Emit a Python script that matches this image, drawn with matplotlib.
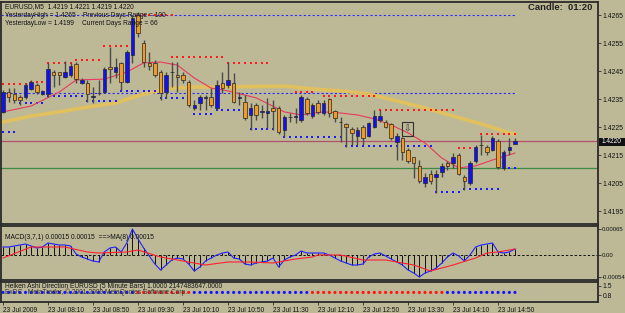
import matplotlib
matplotlib.use('Agg')
import matplotlib.pyplot as plt
from matplotlib.patches import Rectangle
import numpy as np

# ---------------- data ----------------
bar_open = [1.42304, 1.42375, 1.42368, 1.42357, 1.42357, 1.42386, 1.42400, 1.42368, 1.42368, 1.42446,
            1.42446, 1.42429, 1.42436, 1.42475, 1.42407, 1.42407, 1.42357, 1.42371, 1.42375, 1.42464,
            1.42446, 1.42479, 1.42411, 1.42507, 1.42650, 1.42550, 1.42479, 1.42479, 1.42446, 1.42375,
            1.42446, 1.42436, 1.42436, 1.42411, 1.42318, 1.42336, 1.42354, 1.42357, 1.42318, 1.42407,
            1.42400, 1.42407, 1.42354, 1.42339, 1.42293, 1.42329, 1.42304, 1.42300, 1.42318, 1.42318,
            1.42239, 1.42286, 1.42286, 1.42275, 1.42350, 1.42289, 1.42336, 1.42300, 1.42350, 1.42307,
            1.42268, 1.42261, 1.42243, 1.42218, 1.42250, 1.42218, 1.42250, 1.42275, 1.42268, 1.42261,
            1.42196, 1.42211, 1.42168, 1.42143, 1.42111, 1.42050, 1.42082, 1.42071, 1.42089, 1.42121,
            1.42121, 1.42150, 1.42071, 1.42050, 1.42129, 1.42186, 1.42179, 1.42168, 1.42200, 1.42104,
            1.42168, 1.42190]
bar_high = [1.42382, 1.42389, 1.42389, 1.42364, 1.42407, 1.42418, 1.42407, 1.42382, 1.42479, 1.42454,
            1.42446, 1.42486, 1.42479, 1.42482, 1.42425, 1.42418, 1.42393, 1.42418, 1.42464, 1.42536,
            1.42496, 1.42482, 1.42525, 1.42650, 1.42661, 1.42561, 1.42518, 1.42489, 1.42454, 1.42446,
            1.42482, 1.42482, 1.42446, 1.42418, 1.42346, 1.42364, 1.42364, 1.42389, 1.42418, 1.42446,
            1.42482, 1.42443, 1.42375, 1.42364, 1.42336, 1.42336, 1.42329, 1.42354, 1.42346, 1.42325,
            1.42293, 1.42300, 1.42318, 1.42364, 1.42357, 1.42336, 1.42346, 1.42346, 1.42354, 1.42311,
            1.42286, 1.42264, 1.42250, 1.42250, 1.42257, 1.42268, 1.42311, 1.42311, 1.42275, 1.42264,
            1.42229, 1.42214, 1.42175, 1.42143, 1.42132, 1.42086, 1.42096, 1.42096, 1.42121, 1.42129,
            1.42157, 1.42157, 1.42079, 1.42129, 1.42186, 1.42221, 1.42186, 1.42218, 1.42207, 1.42168,
            1.42211, 1.42210]
bar_low = [1.42300, 1.42339, 1.42336, 1.42329, 1.42350, 1.42382, 1.42368, 1.42364, 1.42357, 1.42393,
           1.42400, 1.42425, 1.42429, 1.42407, 1.42404, 1.42339, 1.42336, 1.42364, 1.42371, 1.42407,
           1.42425, 1.42382, 1.42407, 1.42479, 1.42571, 1.42464, 1.42454, 1.42429, 1.42346, 1.42354,
           1.42393, 1.42375, 1.42407, 1.42321, 1.42311, 1.42311, 1.42311, 1.42321, 1.42311, 1.42371,
           1.42389, 1.42336, 1.42329, 1.42275, 1.42239, 1.42275, 1.42282, 1.42246, 1.42239, 1.42225,
           1.42214, 1.42268, 1.42264, 1.42268, 1.42293, 1.42282, 1.42296, 1.42293, 1.42286, 1.42268,
           1.42196, 1.42179, 1.42186, 1.42186, 1.42186, 1.42214, 1.42246, 1.42268, 1.42246, 1.42204,
           1.42132, 1.42132, 1.42121, 1.42068, 1.42050, 1.42036, 1.42046, 1.42014, 1.42071, 1.42096,
           1.42104, 1.42079, 1.42025, 1.42043, 1.42121, 1.42150, 1.42150, 1.42164, 1.42100, 1.42096,
           1.42150, 1.42190]
bar_close = [1.42375, 1.42357, 1.42346, 1.42346, 1.42400, 1.42411, 1.42375, 1.42379, 1.42457, 1.42436,
             1.42436, 1.42446, 1.42468, 1.42421, 1.42418, 1.42368, 1.42361, 1.42371, 1.42457, 1.42457,
             1.42464, 1.42411, 1.42518, 1.42639, 1.42586, 1.42482, 1.42468, 1.42436, 1.42371, 1.42436,
             1.42446, 1.42429, 1.42418, 1.42329, 1.42329, 1.42357, 1.42354, 1.42329, 1.42400, 1.42389,
             1.42418, 1.42339, 1.42354, 1.42282, 1.42318, 1.42293, 1.42304, 1.42307, 1.42307, 1.42232,
             1.42286, 1.42286, 1.42289, 1.42357, 1.42300, 1.42329, 1.42304, 1.42336, 1.42300, 1.42282,
             1.42268, 1.42250, 1.42229, 1.42239, 1.42211, 1.42264, 1.42289, 1.42289, 1.42250, 1.42211,
             1.42218, 1.42161, 1.42129, 1.42121, 1.42057, 1.42071, 1.42057, 1.42082, 1.42111, 1.42111,
             1.42143, 1.42082, 1.42057, 1.42121, 1.42179, 1.42186, 1.42161, 1.42211, 1.42107, 1.42161,
             1.42179, 1.42200]

# slow (yellow) and fast (red) moving averages, read at sample bars
ma_slow_bar = [0, 5, 10, 15, 20, 25, 30, 35, 40, 45, 50, 55, 60, 65, 70, 75, 80, 85, 90, 91]
ma_slow_val = [1.42268, 1.42289, 1.42304, 1.42321, 1.42336, 1.42368, 1.42389, 1.42393, 1.42393, 1.42395,
               1.42396, 1.42386, 1.42379, 1.42368, 1.42343, 1.42318, 1.42289, 1.42261, 1.42229, 1.42225]
ma_fast_bar = [0, 5, 10, 13, 18, 22, 25, 28, 31, 34, 37, 40, 45, 50, 53, 57, 60, 63, 66, 69, 72, 75, 78, 81, 84, 87, 91]
ma_fast_val = [1.42304, 1.42325, 1.42375, 1.42418, 1.42421, 1.42446, 1.42479, 1.42482, 1.42471, 1.42425,
               1.42389, 1.42379, 1.42354, 1.42304, 1.42293, 1.42304, 1.42300, 1.42293, 1.42279, 1.42257,
               1.42229, 1.42193, 1.42139, 1.42104, 1.42111, 1.42132, 1.42157]

# dotted resistance (red) and support (blue) levels: level, first bar, last bar
res_level = [1.42404, 1.42411, 1.42479, 1.42489, 1.42539, 1.42650, 1.42500, 1.42479, 1.42375, 1.42361, 1.42311, 1.42175, 1.42225]
res_first = [0, 5, 8, 13, 18, 24, 30, 40, 52, 57, 67, 81, 85]
res_last = [4, 7, 12, 17, 22, 30, 39, 47, 55, 66, 80, 83, 91]
sup_level = [1.42232, 1.42336, 1.42361, 1.42343, 1.42379, 1.42354, 1.42296, 1.42311, 1.42243, 1.42214, 1.42182, 1.42018, 1.42029, 1.42104]
sup_first = [0, 3, 8, 15, 21, 28, 34, 38, 44, 50, 61, 77, 82, 90]
sup_last = [2, 7, 14, 20, 27, 32, 37, 42, 48, 60, 76, 81, 88, 91]

yesterday_high = 1.4265
day_open_level = 1.42373
bid_level = 1.4220
green_level = 1.42104

price_ticks = [1.4265, 1.4255, 1.4245, 1.4235, 1.4225, 1.4215, 1.4205, 1.4195]

# MACD(3,7,1) histogram / line and its MA(8) signal
macd = [20, 20, 22.5, 25, 27.5, 22.5, 17.5, 20, 30, 27.5,
        25, 25, 22.5, 2.5, -5, -10, -15, -17.5, 7.5, 17.5,
        20, 7.5, 30, 65, 40, 17.5, -2.5, -22.5, -37.5, -25,
        -12.5, -7.5, -10, -22.5, -40, -30, -15, -7.5, 0, 5,
        7.5, -7.5, -10, -22.5, -25, -20, -17.5, -15, -7.5, -30,
        -12.5, -5, 0, 10, 5, 5, 5, 5, 0, -7.5,
        -15, -20, -25, -25, -22.5, -5, 2.5, 5, -2.5, -10,
        -17.5, -25, -37.5, -45, -55, -45, -40, -32.5, -20, -5,
        5, -2.5, -15, 0, 20, 25, 27.5, 30, 7.5, 5,
        7.5, 15]  # x 1e-5
signal_bar = [0, 5, 11, 15, 17, 22, 24, 28, 33, 36, 40, 44, 48, 52, 55, 56, 60, 64, 68, 73, 76, 80, 84, 86, 88, 91]
signal_val = [-7.5, 20, 20, 7.5, 5, 7.5, 12.5, -5, -17.5, -25, -17.5, -17.5, -20, -10, -5, 0, 0,
              -12.5, -12.5, -25, -40, -25, -7.5, 5, 7.5, 15]  # x 1e-5
macd_ticks = [0.00065, 0.0, -0.00054]
macd_tick_labels = ['0.00065', '0.00', '-0.00054']

# Heiken Ashi direction (1 = up / blue, 0 = down / red)
ha_dir = [1] * 24 + [0] * 10 + [1] * 21 + [0] * 24 + [1] * 13
ha_ticks = [1.5, 0.8]

time_bars = [0, 8, 16, 24, 32, 40, 48, 56, 64, 72, 80, 88]
time_labels = ['23 Jul 2009', '23 Jul 08:10', '23 Jul 08:50', '23 Jul 09:30', '23 Jul 10:10',
               '23 Jul 10:50', '23 Jul 11:30', '23 Jul 12:10', '23 Jul 12:50', '23 Jul 13:30',
               '23 Jul 14:10', '23 Jul 14:50']

# ---------------- style / layout ----------------
W, H = 625, 313
BG = '#bdb997'
EDGE = '#2a2a2a'
X0, STEP = 3.0, 5.626   # pixel of bar 0 and bar spacing
plt.rcParams['font.family'] = ['Liberation Sans', 'DejaVu Sans']

fig = plt.figure(figsize=(W / 100, H / 100), dpi=100, facecolor=BG)


def rect(x0, y0, x1, y1):
    return [x0 / W, 1 - y1 / H, (x1 - x0) / W, (y1 - y0) / H]


def px2bar(px):
    return (px - X0) / STEP


def fy(py):
    return 1 - py / H


ax = fig.add_axes(rect(1.5, 1.5, 598, 224))
axm = fig.add_axes(rect(1.5, 226, 598, 280))
axh = fig.add_axes(rect(1.5, 282, 598, 302))

for a in (ax, axm, axh):
    a.set_facecolor(BG)
    a.set_xlim(px2bar(1.5), px2bar(598))
    for s in a.spines.values():
        s.set_color(EDGE)
        s.set_linewidth(1.3)
    a.tick_params(axis='x', which='both', bottom=False, labelbottom=False)
    a.yaxis.tick_right()
    a.tick_params(axis='y', length=2, width=0.6, color=EDGE, labelsize=4.9, pad=1.5,
                  labelcolor='#111111')

# ---------------- main price panel ----------------
p_top = 1.4265 + (15 - 1.5) / 28 * 0.001
p_bot = 1.4265 - (224 - 15) / 28 * 0.001
ax.set_ylim(p_bot, p_top)
ax.set_yticks(price_ticks)
ax.set_yticklabels(['%.4f' % v for v in price_ticks])

n = len(bar_close)
idx = np.arange(n)
o = np.array(bar_open)
c = np.array(bar_close)

# horizontal reference lines
ax.axhline(bid_level, color='#b0506e', lw=0.9, zorder=1)
ax.axhline(green_level, color='#3c8a44', lw=0.9, zorder=1)
ax.plot([px2bar(1.5), n - 1], [yesterday_high] * 2, color='#2828ff', lw=0.8, ls=(0, (2, 2)), zorder=1)
ax.plot([px2bar(1.5), n - 1], [day_open_level] * 2, color='#2828ff', lw=0.8, ls=(0, (2, 2)), zorder=1)

# moving averages
ax.plot(ma_slow_bar, ma_slow_val, color='#e6c158', lw=2.6, alpha=0.9, solid_capstyle='round', zorder=2)
ax.plot(ma_fast_bar, ma_fast_val, color='#e8385e', lw=0.8, zorder=4)

# support / resistance dots
for lv, a0, a1 in zip(res_level, res_first, res_last):
    xs = np.arange(a0, a1 + 1)
    ax.plot(xs, [lv] * len(xs), ls='none', marker='s', ms=1.7, mew=0, color='#ff1a1a', zorder=3)
for lv, a0, a1 in zip(sup_level, sup_first, sup_last):
    xs = np.arange(a0, a1 + 1)
    ax.plot(xs, [lv] * len(xs), ls='none', marker='s', ms=1.7, mew=0, color='#1a1aff', zorder=3)

# candles
ax.vlines(idx, bar_low, bar_high, color='#4a4a4a', lw=1.0, zorder=5)
cols = ['#1010f0' if cc >= oo else '#f09a2a' for oo, cc in zip(o, c)]
heights = np.maximum(np.abs(c - o), 0.000015)
ax.bar(idx, heights, bottom=np.minimum(o, c), width=0.62, color=cols, edgecolor='#262626',
       linewidth=0.5, zorder=6)

# arrow box object
bx0, bx1 = px2bar(402), px2bar(413)
ax.add_patch(Rectangle((bx0, 1.42218), bx1 - bx0, 0.00050, fill=False, ec='#303030', lw=0.8, zorder=7))
ax.text((bx0 + bx1) / 2, 1.42243, '\u21e9', ha='center', va='center', fontsize=6.5, color='#303030',
        zorder=7, family='DejaVu Sans')

# current bid label
fig.patches.append(Rectangle((599 / W, fy(145.5)), 26 / W, 8 / H, transform=fig.transFigure,
                             facecolor='#111111', edgecolor='none', zorder=10))
fig.text(602 / W, fy(141.3), '%.4f' % bid_level, color='white', fontsize=4.7, va='center', ha='left', zorder=11)

# header texts
TXT = '#111111'
FS = 4.8
fig.text(5 / W, fy(7), 'EURUSD,M5  1.4219 1.4221 1.4219 1.4220', fontsize=FS, color=TXT, va='center')
fig.text(5 / W, fy(15.5), 'YesterdayHigh = 1.4265', fontsize=FS, color=TXT, va='center')
fig.text(83 / W, fy(15.5), 'Previous Days Range = 100', fontsize=FS, color=TXT, va='center')
fig.text(5 / W, fy(23.5), 'YesterdayLow = 1.4199', fontsize=FS, color=TXT, va='center')
fig.text(82 / W, fy(23.5), 'Current Days Range = 66', fontsize=FS, color=TXT, va='center')
fig.text(592 / W, fy(7.5), 'Candle:  01:20', fontsize=6.8, fontweight='bold', color='#222222',
         va='center', ha='right')

# ---------------- MACD panel ----------------
m_unit = 0.000025  # value per pixel
axm.set_ylim(-(280 - 255) * m_unit, (255 - 226) * m_unit)
mv = np.array(macd) * 1e-5
axm.axhline(0, color='#111111', lw=0.7, ls=(0, (2.5, 2)), zorder=1)
axm.vlines(idx, 0, mv, color='#111111', lw=0.7, zorder=2)
axm.plot(idx, mv, color='#2020ff', lw=0.8, zorder=3)
axm.plot(signal_bar, np.array(signal_val) * 1e-5, color='#ff2030', lw=0.8, zorder=4)
axm.set_yticks(macd_ticks)
axm.set_yticklabels(macd_tick_labels)
axm.tick_params(axis='y', labelsize=4.3, pad=1)
axm.text(0.006, 0.78, 'MACD(3,7,1) 0.00015 0.00015  ==>MA(8) 0.00015', transform=axm.transAxes,
         fontsize=FS, color=TXT, va='center')

# ---------------- Heiken Ashi panel ----------------
h_unit = 0.7 / 9
axh.set_ylim(0.8 - (302 - 295) * h_unit, 1.5 + (286 - 282) * h_unit)
axh.set_yticks(ha_ticks)
axh.set_yticklabels(['%.1f' % v for v in ha_ticks])
dcol = ['#1414ff' if d == 1 else '#ff1414' for d in ha_dir]
axh.scatter(idx, np.ones(n), c=dcol, s=5, marker='o', linewidths=0, zorder=2)
axh.text(0.006, 0.78, 'Heiken Ashi Direction EURUSD (5 Minute Bars) 1.0000 2147483647.0000',
         transform=axh.transAxes, fontsize=FS, color=TXT, va='center')
axh.text(0.006, 0.47, 'ExDC   MetaTrader, \u00a9 2001-2009 MetaQuotes Software Corp.',
         transform=axh.transAxes, fontsize=FS, color='#333333', va='center', zorder=3)

# time axis
axh.tick_params(axis='x', which='both', bottom=True, labelbottom=True, length=2.5, width=0.6,
                color=EDGE, labelsize=4.8, pad=0.8, labelcolor='#111111')
axh.set_xticks(time_bars)
axh.set_xticklabels(time_labels)
for lab in axh.get_xticklabels():
    lab.set_ha('left')

fig.savefig('out.png', dpi=100, facecolor=BG)
